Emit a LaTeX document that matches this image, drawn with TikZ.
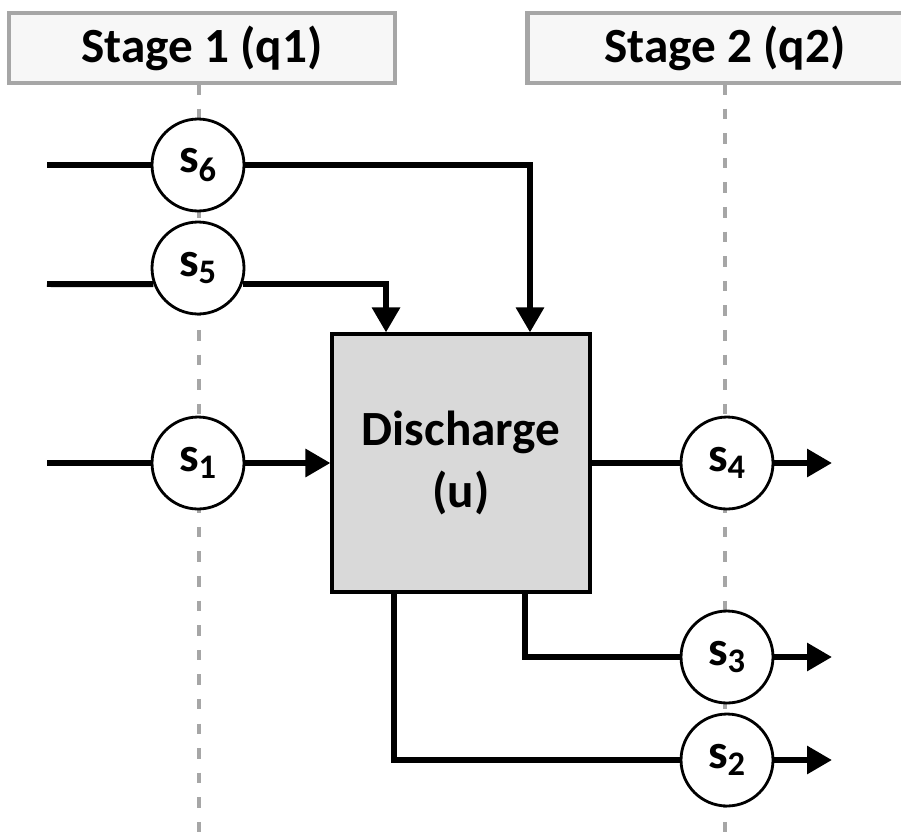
\documentclass[tikz,border=0pt]{standalone}
\usepackage{fontspec}
\setmainfont{Carlito}
\usetikzlibrary{arrows.meta}

\tikzset{
  stagebox/.style={draw=black!35, line width=2.4pt, fill=black!3,
    minimum width=7.72cm, minimum height=1.4cm,
    font=\fontsize{28}{34}\selectfont\bfseries},
  stream/.style={circle, draw, line width=1.6pt, fill=white,
    minimum size=1.84cm, inner sep=0pt,
    font=\fontsize{28}{34}\selectfont\bfseries},
  unitbox/.style={draw, line width=1.8pt, fill=black!15,
    minimum size=5.16cm, align=center,
    font=\fontsize{28}{35}\selectfont\bfseries},
  flow/.style={line width=3.4pt},
  flowarrow/.style={flow, -{Triangle[length=0.5cm,width=0.54cm]}},
  stageline/.style={draw=black!35, line width=2.6pt, dash pattern=on 6pt off 8pt}
}

\begin{document}
\begin{tikzpicture}[x=0.02cm, y=-0.02cm]
  \useasboundingbox (0,0) rectangle (901,835);

  % Stages
  \node[stagebox] (st1) at (202,48) {Stage 1 (q1)};
  \node[stagebox, minimum width=7.9cm] (st2) at (725,48) {Stage 2 (q2)};
  \draw[stageline] (199,84) -- (199,835);
  \draw[stageline] (725,84) -- (725,835);

  % Unit
  \node[unitbox] (dis) at (461,463) {Discharge\\(u)};

  % Streams
  \node[stream] (s6) at (198,165) {s\textsubscript{6}};
  \node[stream] (s5) at (198,268) {s\textsubscript{5}};
  \node[stream] (s1) at (198,463) {s\textsubscript{1}};
  \foreach \n/\y in {4/463, 3/657, 2/760} {
    \node[stream] (s\n) at (727,\y) {s\textsubscript{\n}};
    \coordinate (out\n) at (832,\y);
  }
  \coordinate (in6) at (47,165);
  \coordinate (in5) at (47,284);
  \coordinate (in1) at (47,463);

  % Feeds
  \draw[flow] (in6) -- (s6);
  \draw[flowarrow] (s6) -| ([xshift=1.38cm]dis.north);
  \draw[flow] (in5) -- (s5.200);
  \draw[flowarrow] (s5.-20) -| ([xshift=-1.5cm]dis.north);
  \draw[flow] (in1) -- (s1);
  \draw[flowarrow] (s1) -- (dis.west);

  % Products
  \draw[flow] (dis.east) -- (s4);
  \draw[flow] ([xshift=1.28cm]dis.south) |- (s3);
  \draw[flow] ([xshift=-1.34cm]dis.south) |- (s2);
  \foreach \n in {4,3,2}
    \draw[flowarrow] (s\n) -- (out\n);
\end{tikzpicture}
\end{document}
